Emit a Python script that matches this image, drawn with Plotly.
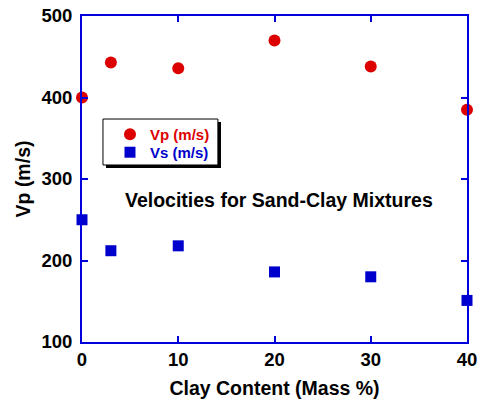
import plotly.graph_objects as go

clay = [0, 3, 10, 20, 30, 40]
vp = [400, 443, 436, 470, 438, 385]
vs = [250, 212, 218, 186, 180, 151]
xticks = [0, 10, 20, 30, 40]
yticks = [100, 200, 300, 400, 500]

RED = "#dd0000"
BLUE = "#0000cc"
FONT = "Liberation Sans, Arial, sans-serif"

fig = go.Figure()
fig.add_trace(go.Scatter(x=clay, y=vp, mode="markers",
                         name="<b><span style='color:%s'>Vp (m/s)</span></b>" % RED,
                         marker=dict(symbol="circle", size=12, color=RED),
                         cliponaxis=False, legend="legend"))
fig.add_trace(go.Scatter(x=clay, y=vs, mode="markers",
                         name="<b><span style='color:%s'>Vs (m/s)</span></b>" % BLUE,
                         marker=dict(symbol="square", size=11, color=BLUE),
                         cliponaxis=False, legend="legend2"))

axis_common = dict(showline=True, linecolor="#0000dd", linewidth=2, mirror="ticks",
                   ticks="inside", ticklen=6, tickwidth=2, tickcolor="#0000dd",
                   showgrid=False, zeroline=False, automargin=False,
                   tickfont=dict(family=FONT, size=18.5, color="black"))

legend_common = dict(xanchor="left", yanchor="top", bgcolor="rgba(0,0,0,0)",
                     borderwidth=0, font=dict(family=FONT, size=15), itemwidth=30)

fig.update_layout(
    width=478, height=406,
    margin=dict(l=82, r=11, t=16, b=64),
    plot_bgcolor="white", paper_bgcolor="white",
    font=dict(family=FONT, color="black"),
    xaxis=dict(range=[0, 40], tickvals=xticks,
               ticktext=["<b>%d</b>" % v for v in xticks],
               ticklabelstandoff=0,
               title=dict(text="<b>Clay Content (Mass %)</b>", font=dict(size=19.5), standoff=12),
               **axis_common),
    yaxis=dict(range=[100, 500], tickvals=yticks,
               ticktext=["<b>%d</b>" % v for v in yticks],
               ticklabelstandoff=4,
               title=dict(text="<b>Vp (m/s)</b>", font=dict(size=19.5), standoff=6),
               **axis_common),
    showlegend=True,
    legend=dict(x=0.0727, y=0.687, **legend_common),
    legend2=dict(x=0.0727, y=0.632, **legend_common),
    annotations=[dict(text="<b>Velocities for Sand-Clay Mixtures</b>", x=0.512, y=0.435,
                      xref="paper", yref="paper", showarrow=False,
                      font=dict(family=FONT, size=19.5, color="black"))],
    shapes=[
        dict(type="rect", xref="paper", yref="paper", layer="above",
             x0=0.0623, x1=0.361, y0=0.534, y1=0.675,
             fillcolor="black", line=dict(width=0)),
        dict(type="rect", xref="paper", yref="paper", layer="above",
             x0=0.0545, x1=0.353, y0=0.543, y1=0.684,
             fillcolor="white", line=dict(width=1, color="black")),
    ],
)

fig.write_html("out.html", config={"displayModeBar": False},
               post_script="document.body.style.margin='0';")
